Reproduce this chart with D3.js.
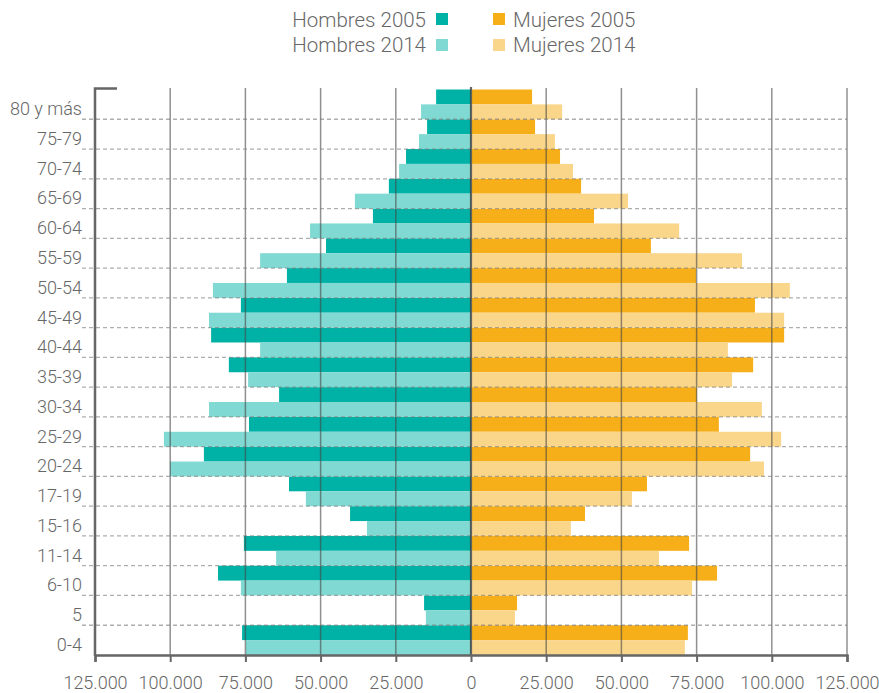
<!DOCTYPE html>
<html><head><meta charset="utf-8">
<script src="https://cdn.jsdelivr.net/npm/d3@7"></script>
<style>
body{margin:0;background:#fff;}
svg text{font-family:Roboto,"Noto Sans",sans-serif;font-weight:300;fill:#676767;}
</style></head>
<body><svg id="c" width="879" height="693"></svg>
<script>
const categories = ["80 y más","75-79","70-74","65-69","60-64","55-59","50-54","45-49","40-44","35-39","30-34","25-29","20-24","17-19","15-16","11-14","6-10","5","0-4"];
const hombres2005 = [11600,14600,21600,27300,32600,48200,61200,76500,86400,80500,63800,73800,88800,60500,40200,75500,84100,15600,76100];
const hombres2014 = [16600,17300,23900,38600,53500,70100,85800,87100,70100,74100,87100,102100,100100,54900,34600,64800,76500,15000,74800];
const mujeres2005 = [20300,21300,29600,36600,40900,59800,74800,94400,104100,93800,75100,82400,92800,58500,37900,72500,81800,15300,72100];
const mujeres2014 = [30300,27900,33900,52200,69200,90100,106000,104100,85400,86800,96700,103100,97400,53500,33200,62500,73500,14600,71100];
const xTicks = [-125000,-100000,-75000,-50000,-25000,0,25000,50000,75000,100000,125000];
const seriesNames = ["Hombres 2005","Hombres 2014","Mujeres 2005","Mujeres 2014"];
const colors = ["#00b2a6","#80d9d2","#f7af19","#fad68a"];

(function(){
const svg = d3.select("#c");
const L = 95, R = 847, T = 89.5, B = 655;
const x = d3.scaleLinear().domain([-125000,125000]).range([L,R]);
const y = d3.scaleBand().domain(categories).range([T,B]).padding(0);
const bw = y.bandwidth();
const loc = d3.formatLocale({decimal:",",thousands:".",grouping:[3],currency:["",""]});
const fmt = loc.format(",");

const g = svg.append("g");
const rows = categories.map((c,i)=>({c,h5:hombres2005[i],h14:hombres2014[i],m5:mujeres2005[i],m14:mujeres2014[i]}));

const bars = [
  {k:"h5",sign:-1,off:0,col:colors[0]},
  {k:"h14",sign:-1,off:0.5,col:colors[1]},
  {k:"m5",sign:1,off:0,col:colors[2]},
  {k:"m14",sign:1,off:0.5,col:colors[3]}
];
bars.forEach(b=>{
  g.selectAll(null).data(rows).enter().append("rect")
    .attr("x",d=> b.sign<0 ? x(-d[b.k]) : x(0)+1)
    .attr("width",d=> b.sign<0 ? x(0)-x(-d[b.k]) : x(d[b.k])-x(0)-1)
    .attr("y",d=>y(d.c)+b.off*bw)
    .attr("height",bw/2)
    .attr("fill",b.col);
});

g.selectAll(null).data(xTicks.filter(t=>t!==-125000 && t!==0)).enter().append("line")
  .attr("x1",d=>x(d)).attr("x2",d=>x(d)).attr("y1",88).attr("y2",B)
  .attr("stroke","rgba(70,70,70,0.6)").attr("stroke-width",1.5);

g.selectAll(null).data(categories.slice(1)).enter().append("line")
  .attr("x1",82).attr("x2",R).attr("y1",d=>y(d)).attr("y2",d=>y(d))
  .attr("stroke","rgba(120,120,120,0.6)").attr("stroke-width",1.3).attr("stroke-dasharray","4,3");

g.append("line").attr("x1",x(0)).attr("x2",x(0)).attr("y1",87).attr("y2",B)
  .attr("stroke","rgba(60,60,60,0.8)").attr("stroke-width",2.2);

const xAxis = d3.axisBottom(x).tickValues(xTicks).tickSize(7).tickPadding(8).tickFormat(d=>fmt(Math.abs(d)));
const xa = svg.append("g").attr("transform",`translate(0,${B})`).call(xAxis);
xa.select(".domain").attr("stroke","#666").attr("stroke-width",2.5);
xa.selectAll(".tick line").attr("stroke","#666").attr("stroke-width",2);
xa.selectAll(".tick text").attr("font-size",18).attr("dy","1.05em").style("font-family","Roboto, sans-serif");

const yAxis = d3.axisLeft(y).tickSize(0).tickPadding(13);
const ya = svg.append("g").attr("transform",`translate(${L},0)`).call(yAxis);
ya.select(".domain").remove();
ya.selectAll(".tick text").attr("font-size",18).attr("dy","0.6em").style("font-family","Roboto, sans-serif");
svg.append("path").attr("d",`M117,88.5 H${L} V${B+1}`).attr("fill","none").attr("stroke","#666").attr("stroke-width",2.5);

const leg = [
  {n:seriesNames[0],c:colors[0],sx:436,ty:27,anchor:"end",tx:426,sy:13},
  {n:seriesNames[1],c:colors[1],sx:436,ty:52,anchor:"end",tx:426,sy:39},
  {n:seriesNames[2],c:colors[2],sx:493,ty:27,anchor:"start",tx:513,sy:13},
  {n:seriesNames[3],c:colors[3],sx:493,ty:52,anchor:"start",tx:513,sy:39}
];
const lg = svg.append("g");
lg.selectAll(null).data(leg).enter().append("rect")
  .attr("x",d=>d.sx).attr("y",d=>d.sy).attr("width",12).attr("height",12).attr("fill",d=>d.c);
lg.selectAll(null).data(leg).enter().append("text")
  .attr("x",d=>d.tx).attr("y",d=>d.ty).attr("text-anchor",d=>d.anchor).attr("font-size",20.5).text(d=>d.n);
})();
</script></body></html>
